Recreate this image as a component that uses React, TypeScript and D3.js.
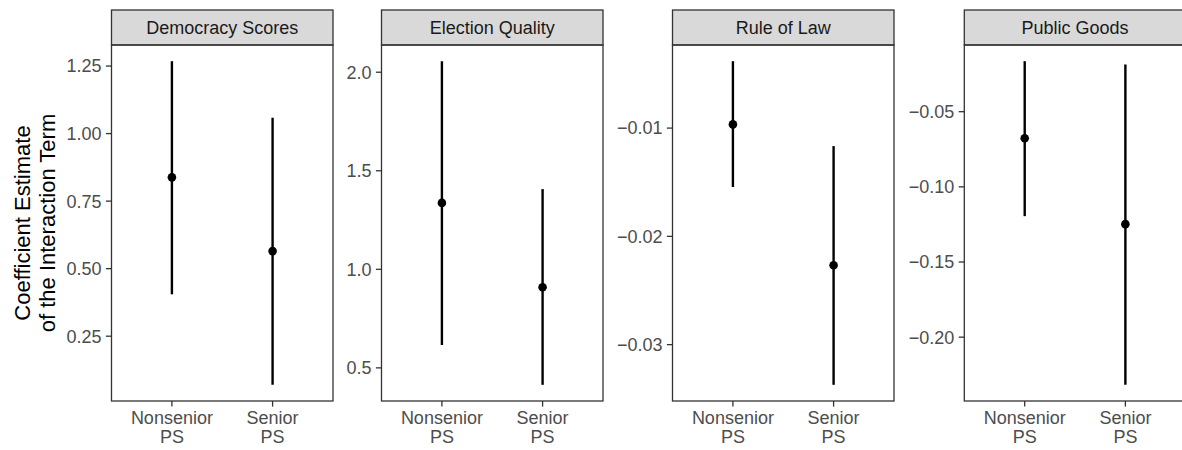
import React from "react";
import * as d3 from "d3";

// Facet titles, x categories and y-axis ticks
const panelTitles = ["Democracy Scores", "Election Quality", "Rule of Law", "Public Goods"];
const groups = ["Nonsenior\nPS", "Senior\nPS"];

// Point estimates and 95% interval bounds per outcome (Nonsenior, Senior)
const democracyEst = [0.838, 0.565];
const democracyLow = [0.405, 0.07];
const democracyHigh = [1.268, 1.059];

const electionEst = [1.337, 0.909];
const electionLow = [0.616, 0.414];
const electionHigh = [2.056, 1.407];

const ruleEst = [-0.00966, -0.02267];
const ruleLow = [-0.01544, -0.03371];
const ruleHigh = [-0.00382, -0.01166];

const publicEst = [-0.0677, -0.1248];
const publicLow = [-0.1195, -0.2317];
const publicHigh = [-0.0164, -0.0186];

const democracyTicks = [0.25, 0.5, 0.75, 1.0, 1.25];
const electionTicks = [0.5, 1.0, 1.5, 2.0];
const ruleTicks = [-0.03, -0.02, -0.01];
const publicTicks = [-0.2, -0.15, -0.1, -0.05];

const tickDigits = [2, 1, 2, 2];

const panels = [
  { est: democracyEst, low: democracyLow, high: democracyHigh, ticks: democracyTicks },
  { est: electionEst, low: electionLow, high: electionHigh, ticks: electionTicks },
  { est: ruleEst, low: ruleLow, high: ruleHigh, ticks: ruleTicks },
  { est: publicEst, low: publicLow, high: publicHigh, ticks: publicTicks },
];

// Layout
const W = 1182;
const H = 450;
const panelLefts = [111.5, 381.5, 672.5, 964.3];
const panelWidth = 221.5;
const stripTop = 10;
const panelTop = 45;
const panelBottom = 401;
const font = "'Liberation Sans', Arial, Helvetica, sans-serif";
const tickFont = 18;
const titleFont = 22;
const tickLen = 5.6;
const xLineGap = 18.4;

function fmt(v: number, digits: number) {
  const s = Math.abs(v).toFixed(digits);
  return v < 0 ? "\u2212" + s : s;
}

export default function App() {
  return (
    <svg width={W} height={H} style={{ display: "block", position: "absolute", left: 0, top: 0 }} fontFamily={font}>
      <rect x={0} y={0} width={W} height={H} fill="#ffffff" />
      {/* y-axis title */}
      <g fill="#000000" fontSize={titleFont} textAnchor="middle">
        <text transform={`translate(30,${(panelTop + panelBottom) / 2}) rotate(-90)`}>Coefficient Estimate</text>
        <text transform={`translate(54.5,${(panelTop + panelBottom) / 2}) rotate(-90)`}>of the Interaction Term</text>
      </g>
      {panels.map((p, i) => {
        const left = panelLefts[i];
        const right = left + panelWidth;
        const x = d3.scalePoint<string>().domain(groups).range([left, right]).padding(0.6);
        const lo = d3.min(p.low) as number;
        const hi = d3.max(p.high) as number;
        const pad = (hi - lo) * 0.05;
        const y = d3.scaleLinear().domain([lo - pad, hi + pad]).range([panelBottom, panelTop]);
        return (
          <g key={i}>
            {/* strip */}
            <rect x={left} y={stripTop} width={panelWidth} height={panelTop - stripTop} fill="#d9d9d9" stroke="#333333" strokeWidth={1.3} />
            <text x={(left + right) / 2} y={(stripTop + panelTop) / 2 + 6.4} fontSize={tickFont} fill="#1a1a1a" textAnchor="middle">
              {panelTitles[i]}
            </text>
            {/* marks */}
            {groups.map((g, j) => (
              <g key={g}>
                <line x1={x(g)} x2={x(g)} y1={y(p.low[j])} y2={y(p.high[j])} stroke="#000000" strokeWidth={2.4} />
                <circle cx={x(g)} cy={y(p.est[j])} r={4.3} fill="#000000" />
              </g>
            ))}
            {/* panel border */}
            <rect x={left} y={panelTop} width={panelWidth} height={panelBottom - panelTop} fill="none" stroke="#333333" strokeWidth={1.3} />
            {/* y axis */}
            {p.ticks.map((t) => (
              <g key={t}>
                <line x1={left - tickLen} x2={left} y1={y(t)} y2={y(t)} stroke="#333333" strokeWidth={1.3} />
                <text x={left - tickLen - 4.4} y={y(t) + 6.4} fontSize={tickFont} fill="#4d4d4d" textAnchor="end">
                  {fmt(t, tickDigits[i])}
                </text>
              </g>
            ))}
            {/* x axis */}
            {groups.map((g) => (
              <g key={g}>
                <line x1={x(g)} x2={x(g)} y1={panelBottom} y2={panelBottom + tickLen} stroke="#333333" strokeWidth={1.3} />
                {g.split("\n").map((line, k) => (
                  <text key={k} x={x(g)} y={panelBottom + tickLen + 4.4 + 13.2 + k * xLineGap} fontSize={tickFont} fill="#4d4d4d" textAnchor="middle">
                    {line}
                  </text>
                ))}
              </g>
            ))}
          </g>
        );
      })}
    </svg>
  );
}
